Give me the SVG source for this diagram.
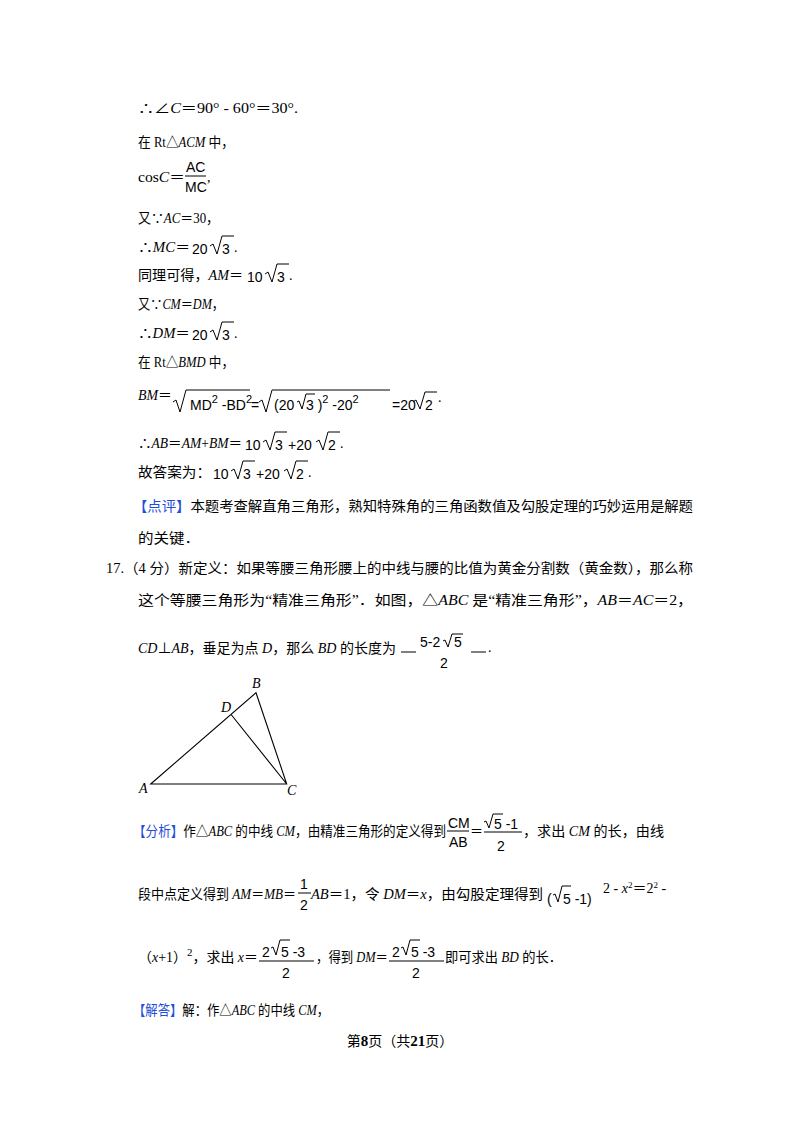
<svg xmlns="http://www.w3.org/2000/svg" width="800" height="1132" viewBox="0 0 800 1132">
<style>
text{font-family:"Liberation Serif","Noto Sans CJK SC",serif;font-size:14px;fill:#000}
.i{font-style:italic}
.s{font-family:"Liberation Sans","Noto Sans CJK SC",sans-serif}
.b{fill:#1f4ed8}
.r{fill:none;stroke:#000;stroke-width:1}
.l{stroke:#000;stroke-width:1}
</style>
<rect width="800" height="1132" fill="#fff"/>
<g id="text">
<text x="138" y="113" textLength="160" lengthAdjust="spacingAndGlyphs">∴∠<tspan class="i">C</tspan>＝90° - 60°＝30°.</text>
<text x="138" y="147" textLength="96" lengthAdjust="spacingAndGlyphs">在 Rt△<tspan class="i">ACM</tspan> 中，</text>
<text x="138" y="182" textLength="47" lengthAdjust="spacingAndGlyphs">cos<tspan class="i">C</tspan>＝</text>
<text x="186" y="172" class="s" font-size="13">AC</text>
<line x1="185" y1="176" x2="206" y2="176" class="l"/>
<text x="185" y="192" class="s" font-size="13">MC</text>
<text x="207" y="182">,</text>
<text x="138" y="223" textLength="81" lengthAdjust="spacingAndGlyphs">又∵<tspan class="i">AC</tspan>＝30，</text>
<text x="138" y="252" textLength="52" lengthAdjust="spacingAndGlyphs">∴<tspan class="i">MC</tspan>＝</text>
<text x="192" y="254" class="s" font-size="17">20</text>
<path class="r" d="M210,246 l3,-2 l4,10 l5,-18 h12"/>
<text x="222" y="254" class="s" font-size="17">3</text><text x="234" y="252">.</text>
<text x="138" y="280" textLength="105" lengthAdjust="spacingAndGlyphs">同理可得，<tspan class="i">AM</tspan>＝</text>
<text x="247" y="282" class="s" font-size="17">10</text>
<path class="r" d="M265,274 l3,-2 l4,10 l5,-18 h12"/>
<text x="277" y="282" class="s" font-size="17">3</text><text x="289" y="280">.</text>
<text x="138" y="309" textLength="86" lengthAdjust="spacingAndGlyphs">又∵<tspan class="i">CM</tspan>＝<tspan class="i">DM</tspan>，</text>
<text x="138" y="338" textLength="52" lengthAdjust="spacingAndGlyphs">∴<tspan class="i">DM</tspan>＝</text>
<text x="192" y="340" class="s" font-size="17">20</text>
<path class="r" d="M210,332 l3,-2 l4,10 l5,-18 h12"/>
<text x="222" y="340" class="s" font-size="17">3</text><text x="234" y="338">.</text>
<text x="138" y="367" textLength="96" lengthAdjust="spacingAndGlyphs">在 Rt△<tspan class="i">BMD</tspan> 中，</text>
<text x="138" y="400" textLength="34" lengthAdjust="spacingAndGlyphs"><tspan class="i">BM</tspan>＝</text>
<path class="r" d="M173,402 l3,-2 l4,12 l6,-22 h64"/>
<text x="190" y="410" class="s" font-size="14">MD<tspan dy="-7" font-size="11">2</tspan><tspan dy="7"> -BD</tspan><tspan dy="-7" font-size="11">2</tspan></text>
<text x="251" y="410" class="s" font-size="14">=</text>
<path class="r" d="M259,402 l3,-2 l4,12 l6,-22 h118"/>
<text x="274" y="410" class="s" font-size="14">(20</text>
<path class="r" d="M297,402 l2,-1 l3,8 l4,-15 h9"/>
<text x="306" y="410" class="s" font-size="14">3 )<tspan dy="-7" font-size="11">2</tspan><tspan dy="7"> -20</tspan><tspan dy="-7" font-size="11">2</tspan></text>
<text x="392" y="410" class="s" font-size="14">=20</text>
<path class="r" d="M413,402 l3,-2 l4,9 l5,-17 h12"/>
<text x="425" y="410" class="s" font-size="17">2</text><text x="438" y="402">.</text>
<text x="138" y="448" textLength="104" lengthAdjust="spacingAndGlyphs">∴<tspan class="i">AB</tspan>＝<tspan class="i">AM</tspan>+<tspan class="i">BM</tspan>＝</text>
<text x="245" y="450" class="s" font-size="17">10</text>
<path class="r" d="M263,442 l3,-2 l4,10 l5,-18 h12"/>
<text x="275" y="450" class="s" font-size="17">3</text>
<text x="288" y="450" class="s" font-size="17">+20</text>
<path class="r" d="M316,442 l3,-2 l4,10 l5,-18 h12"/>
<text x="328" y="450" class="s" font-size="17">2</text><text x="340" y="448">.</text>
<text x="138" y="477" textLength="73" lengthAdjust="spacingAndGlyphs">故答案为：</text>
<text x="213" y="479" class="s" font-size="17">10</text>
<path class="r" d="M231,471 l3,-2 l4,10 l5,-18 h12"/>
<text x="243" y="479" class="s" font-size="17">3</text>
<text x="256" y="479" class="s" font-size="17">+20</text>
<path class="r" d="M284,471 l3,-2 l4,10 l5,-18 h12"/>
<text x="296" y="479" class="s" font-size="17">2</text><text x="308" y="477">.</text>
<text x="133" y="511" textLength="560" lengthAdjust="spacingAndGlyphs"><tspan class="b">【点评】</tspan>本题考查解直角三角形，熟知特殊角的三角函数值及勾股定理的巧妙运用是解题</text>
<text x="138" y="543" textLength="62" lengthAdjust="spacingAndGlyphs">的关键．</text>
<text x="106" y="573" textLength="587" lengthAdjust="spacingAndGlyphs">17.（4 分）新定义：如果等腰三角形腰上的中线与腰的比值为黄金分割数（黄金数），那么称</text>
<text x="138" y="605" textLength="555" lengthAdjust="spacingAndGlyphs">这个等腰三角形为“精准三角形”．如图，△<tspan class="i">ABC</tspan> 是“精准三角形”，<tspan class="i">AB</tspan>＝<tspan class="i">AC</tspan>＝2，</text>
<text x="138" y="653" textLength="258" lengthAdjust="spacingAndGlyphs"><tspan class="i">CD</tspan>⊥<tspan class="i">AB</tspan>，垂足为点 <tspan class="i">D</tspan>，那么 <tspan class="i">BD</tspan> 的长度为</text>
<line x1="401" y1="652" x2="416" y2="652" class="l"/>
<text x="420" y="647" class="s" font-size="14">5-2</text>
<path class="r" d="M443,641 l2,-1 l3,7 l4,-13 h11"/>
<text x="454" y="647" class="s" font-size="14">5</text>
<line x1="471" y1="652" x2="486" y2="652" class="l"/>
<text x="440" y="668" class="s" font-size="14">2</text>
<text x="488" y="652">.</text>
<text x="133" y="836" textLength="313" lengthAdjust="spacingAndGlyphs"><tspan class="b">【分析】</tspan>作△<tspan class="i">ABC</tspan> 的中线 <tspan class="i">CM</tspan>，由精准三角形的定义得到</text>
<text x="448" y="828" class="s" font-size="13">CM</text>
<line x1="447" y1="831" x2="469" y2="831" class="l"/>
<text x="449" y="847" class="s" font-size="13">AB</text>
<text x="470" y="836" textLength="13" lengthAdjust="spacingAndGlyphs">＝</text>
<path class="r" d="M484,822 l2,-1 l3,7 l4,-14 h10"/>
<text x="494" y="829" class="s" font-size="15">5 -1</text>
<line x1="484" y1="832" x2="522" y2="832" class="l"/>
<text x="497" y="851" class="s" font-size="15">2</text>
<text x="523" y="836" textLength="141" lengthAdjust="spacingAndGlyphs">，求出 <tspan class="i">CM</tspan> 的长，由线</text>
<text x="138" y="899" textLength="158" lengthAdjust="spacingAndGlyphs">段中点定义得到 <tspan class="i">AM</tspan>＝<tspan class="i">MB</tspan>＝</text>
<text x="300" y="889" class="s" font-size="15">1</text>
<line x1="298" y1="893" x2="311" y2="893" class="l"/>
<text x="300" y="910" class="s" font-size="15">2</text>
<text x="311" y="899" textLength="232" lengthAdjust="spacingAndGlyphs"><tspan class="i">AB</tspan>＝1，令 <tspan class="i">DM</tspan>＝<tspan class="i">x</tspan>，由勾股定理得到</text>
<text x="547" y="904" class="s" font-size="15">(</text>
<path class="r" d="M553,895 l2,-1 l3,8 l4,-16 h9"/>
<text x="563" y="904" class="s" font-size="15">5 -1)</text>
<text x="603" y="893" font-size="13">2 - <tspan class="i">x</tspan><tspan dy="-5" font-size="9">2</tspan><tspan dy="5">＝2</tspan><tspan dy="-5" font-size="9">2</tspan><tspan dy="5"> -</tspan></text>
<text x="138" y="962" textLength="120" lengthAdjust="spacingAndGlyphs">（<tspan class="i">x</tspan>+1）<tspan dy="-6" font-size="11">2</tspan><tspan dy="6">，求出 <tspan class="i">x</tspan>＝</tspan></text>
<text x="262" y="957" class="s" font-size="15">2</text>
<path class="r" d="M271,948 l2,-1 l3,8 l4,-15 h10"/>
<text x="281" y="957" class="s" font-size="15">5 -3</text>
<line x1="259" y1="961" x2="314" y2="961" class="l"/>
<text x="282" y="978" class="s" font-size="15">2</text>
<text x="316" y="962" textLength="72" lengthAdjust="spacingAndGlyphs">，得到 <tspan class="i">DM</tspan>＝</text>
<text x="392" y="957" class="s" font-size="15">2</text>
<path class="r" d="M401,948 l2,-1 l3,8 l4,-15 h10"/>
<text x="411" y="957" class="s" font-size="15">5 -3</text>
<line x1="389" y1="961" x2="444" y2="961" class="l"/>
<text x="412" y="978" class="s" font-size="15">2</text>
<text x="445" y="962" textLength="117" lengthAdjust="spacingAndGlyphs">即可求出 <tspan class="i">BD</tspan> 的长．</text>
<text x="133" y="1015" textLength="196" lengthAdjust="spacingAndGlyphs"><tspan class="b">【解答】</tspan>解：作△<tspan class="i">ABC</tspan> 的中线 <tspan class="i">CM</tspan>，</text>
<text x="400" y="1046" text-anchor="middle" font-size="12">第<tspan font-weight="bold" font-size="15">8</tspan>页（共<tspan font-weight="bold" font-size="15">21</tspan>页）</text>
</g>
<g id="figure">
<path d="M150.7,784 L256,692.7 L286.7,784 Z M230.7,714 L286.7,784" fill="none" stroke="#000" stroke-width="1.1"/>
<text x="252" y="688" class="i">B</text>
<text x="221" y="712" class="i">D</text>
<text x="139" y="793" class="i">A</text>
<text x="287" y="795" class="i">C</text>
</g>
</svg>
